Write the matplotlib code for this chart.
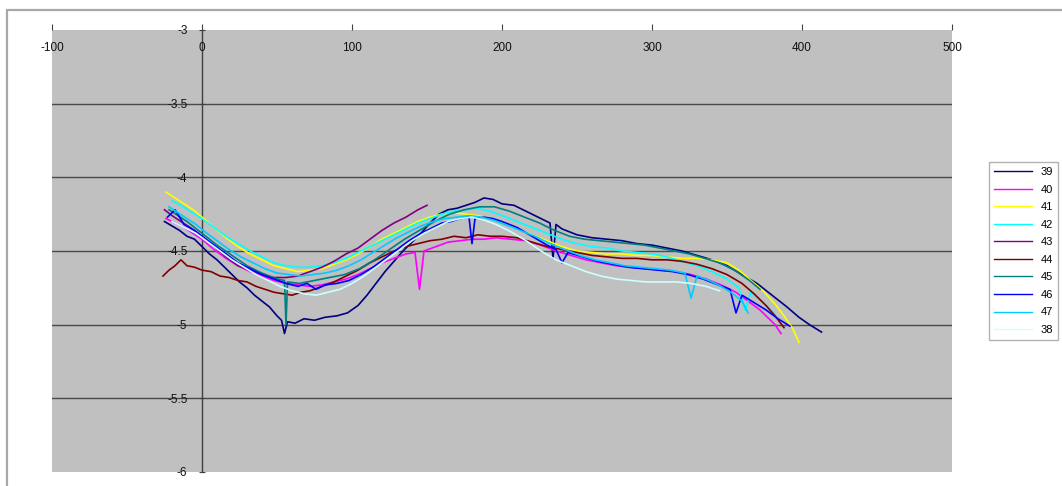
import matplotlib
matplotlib.use("Agg")
import matplotlib.pyplot as plt
from matplotlib.patches import Rectangle

plt.rcParams['font.family'] = ['Liberation Sans', 'DejaVu Sans']

# ---------------- data ----------------
series_names = ["39", "40", "41", "42", "43", "44", "45", "46", "47", "38"]
series_colors = ["#000080", "#FF00FF", "#FFFF00", "#00FFFF", "#800080",
                 "#800000", "#008080", "#0000FF", "#00CCFF", "#CCFFFF"]

x39 = [-25, -20, -15, -10, -5, 0, 5, 10, 15, 20, 25, 30, 35, 40, 45, 50, 53, 55, 57, 62, 68, 75, 82, 90, 97, 104,
       110, 116, 122, 128, 134, 140, 146, 152, 158, 164, 170, 176, 182, 188, 194, 200, 208, 216, 224, 232, 234, 236,
       240, 250, 260, 270, 280, 290, 300, 310, 320, 330, 340, 350, 360, 370, 380, 390, 398, 405, 413]
y39 = [-4.30, -4.33, -4.36, -4.40, -4.42, -4.47, -4.52, -4.56, -4.61, -4.66, -4.71, -4.75, -4.80, -4.84, -4.88,
       -4.94, -4.97, -5.06, -4.98, -4.99, -4.96, -4.97, -4.95, -4.94, -4.92, -4.87, -4.80, -4.72, -4.64, -4.57,
       -4.50, -4.44, -4.38, -4.31, -4.25, -4.22, -4.21, -4.19, -4.17, -4.14, -4.15, -4.18, -4.19, -4.23, -4.27,
       -4.31, -4.55, -4.32, -4.35, -4.39, -4.41, -4.42, -4.43, -4.45, -4.46, -4.48, -4.50, -4.53, -4.56, -4.60,
       -4.66, -4.72, -4.80, -4.88, -4.95, -5.00, -5.05]

x40 = [-24, -18, -12, -6, 0, 8, 16, 24, 32, 40, 48, 56, 64, 72, 80, 88, 96, 104, 112, 120, 128, 136, 142, 145, 148,
       156, 164, 172, 180, 188, 196, 206, 216, 226, 236, 246, 256, 266, 276, 286, 296, 306, 316, 326, 336, 346,
       356, 364, 372, 378, 382, 386]
y40 = [-4.28, -4.31, -4.34, -4.38, -4.42, -4.49, -4.55, -4.60, -4.64, -4.67, -4.70, -4.72, -4.73, -4.74, -4.73,
       -4.71, -4.69, -4.66, -4.62, -4.58, -4.55, -4.52, -4.51, -4.76, -4.50, -4.47, -4.44, -4.43, -4.42, -4.42,
       -4.41, -4.42, -4.43, -4.46, -4.50, -4.53, -4.56, -4.58, -4.60, -4.61, -4.62, -4.63, -4.64, -4.66, -4.69,
       -4.73, -4.78, -4.84, -4.90, -4.96, -5.00, -5.06]

x41 = [-24, -18, -12, -6, 0, 8, 16, 24, 32, 40, 48, 56, 64, 72, 80, 88, 96, 104, 112, 120, 128, 136, 144, 152, 160,
       168, 176, 184, 192, 200, 210, 220, 230, 240, 250, 260, 270, 280, 290, 300, 310, 320, 330, 340, 350, 358,
       366, 374, 382, 388, 394, 398]
y41 = [-4.10, -4.14, -4.18, -4.22, -4.27, -4.34, -4.41, -4.47, -4.52, -4.56, -4.60, -4.62, -4.64, -4.63, -4.62,
       -4.59, -4.56, -4.52, -4.47, -4.42, -4.38, -4.34, -4.30, -4.27, -4.25, -4.24, -4.25, -4.26, -4.28, -4.31,
       -4.35, -4.39, -4.43, -4.47, -4.50, -4.51, -4.52, -4.52, -4.53, -4.53, -4.54, -4.55, -4.55, -4.56, -4.58,
       -4.63, -4.70, -4.77, -4.86, -4.94, -5.03, -5.12]

x42 = [-20, -14, -8, 0, 8, 16, 24, 32, 40, 48, 56, 64, 72, 80, 88, 96, 104, 112, 120, 128, 136, 144, 152, 160, 168,
       176, 184, 192, 200, 210, 220, 230, 240, 250, 260, 270, 280, 290, 300, 310, 320, 330, 340, 350, 358, 362,
       366, 374, 382]
y42 = [-4.16, -4.19, -4.23, -4.28, -4.34, -4.40, -4.45, -4.50, -4.54, -4.58, -4.60, -4.61, -4.61, -4.60, -4.58,
       -4.55, -4.51, -4.47, -4.43, -4.39, -4.35, -4.31, -4.28, -4.25, -4.23, -4.22, -4.21, -4.23, -4.26, -4.30,
       -4.34, -4.38, -4.42, -4.45, -4.47, -4.48, -4.50, -4.51, -4.52, -4.54, -4.57, -4.60, -4.64, -4.69, -4.75,
       -4.90, -4.78, -4.85, -4.93]

x43 = [-25, -20, -14, -8, 0, 8, 16, 24, 32, 40, 48, 56, 64, 72, 80, 88, 96, 104, 112, 120, 128, 136, 144, 150]
y43 = [-4.22, -4.26, -4.30, -4.34, -4.40, -4.47, -4.54, -4.60, -4.63, -4.66, -4.68, -4.68, -4.67, -4.64, -4.61,
       -4.57, -4.52, -4.48, -4.42, -4.36, -4.31, -4.27, -4.22, -4.19]

x44 = [-26, -22, -18, -14, -10, -5, 0, 6, 12, 18, 24, 30, 36, 42, 48, 54, 60, 66, 72, 80, 88, 96, 104, 112, 120,
       128, 136, 144, 152, 160, 168, 176, 184, 192, 200, 210, 220, 230, 240, 250, 260, 270, 280, 290, 300, 310,
       320, 330, 340, 350, 360, 368, 376, 382, 388]
y44 = [-4.67, -4.63, -4.60, -4.56, -4.60, -4.61, -4.63, -4.64, -4.67, -4.68, -4.70, -4.71, -4.74, -4.76, -4.78,
       -4.79, -4.80, -4.78, -4.77, -4.74, -4.71, -4.67, -4.63, -4.58, -4.54, -4.50, -4.47, -4.45, -4.43, -4.42,
       -4.40, -4.41, -4.39, -4.40, -4.40, -4.41, -4.44, -4.47, -4.49, -4.51, -4.53, -4.54, -4.55, -4.55, -4.56,
       -4.56, -4.57, -4.59, -4.62, -4.66, -4.72, -4.79, -4.87, -4.94, -5.02]

x45 = [-22, -10, 0, 10, 20, 30, 40, 50, 55, 56, 57, 65, 75, 85, 95, 105, 115, 125, 135, 145, 155, 165, 175, 185,
       195, 205, 215, 225, 235, 245, 255, 265, 275, 285, 295, 305, 315, 325, 335, 345, 355, 365, 372]
y45 = [-4.22, -4.30, -4.38, -4.46, -4.53, -4.60, -4.65, -4.69, -4.70, -5.00, -4.71, -4.72, -4.70, -4.68, -4.66,
       -4.62, -4.56, -4.49, -4.42, -4.36, -4.30, -4.25, -4.22, -4.20, -4.20, -4.23, -4.27, -4.31, -4.36, -4.40,
       -4.42, -4.43, -4.44, -4.45, -4.46, -4.48, -4.50, -4.52, -4.55, -4.58, -4.63, -4.70, -4.76]

x46 = [-23, -18, -12, -5, 0, 8, 16, 24, 32, 40, 48, 56, 64, 70, 76, 82, 90, 98, 106, 114, 122, 130, 138, 146, 154,
       160, 166, 172, 178, 180, 182, 188, 194, 200, 210, 220, 230, 236, 240, 244, 254, 264, 274, 284, 294, 304,
       314, 324, 334, 344, 352, 356, 360, 368, 376, 384, 392]
y46 = [-4.27, -4.22, -4.32, -4.36, -4.40, -4.46, -4.52, -4.58, -4.62, -4.66, -4.69, -4.72, -4.74, -4.72, -4.76,
       -4.73, -4.72, -4.70, -4.66, -4.61, -4.55, -4.49, -4.43, -4.38, -4.34, -4.31, -4.30, -4.28, -4.27, -4.45,
       -4.28, -4.27, -4.28, -4.30, -4.34, -4.40, -4.46, -4.49, -4.58, -4.51, -4.54, -4.57, -4.59, -4.61, -4.62,
       -4.63, -4.64, -4.66, -4.69, -4.73, -4.76, -4.92, -4.80, -4.85, -4.90, -4.96, -5.01]

x47 = [-22, -16, -10, -4, 2, 10, 18, 26, 34, 42, 50, 58, 66, 74, 82, 90, 98, 106, 114, 122, 130, 138, 146, 154, 162,
       170, 178, 186, 194, 202, 212, 222, 232, 242, 252, 262, 272, 282, 292, 302, 312, 322, 326, 330, 338, 346,
       354, 360, 364]
y47 = [-4.20, -4.24, -4.28, -4.32, -4.37, -4.43, -4.49, -4.54, -4.58, -4.62, -4.65, -4.66, -4.67, -4.66, -4.65,
       -4.63, -4.60, -4.56, -4.51, -4.46, -4.41, -4.37, -4.33, -4.30, -4.28, -4.27, -4.26, -4.27, -4.29, -4.32,
       -4.36, -4.40, -4.45, -4.49, -4.53, -4.56, -4.58, -4.60, -4.61, -4.62, -4.63, -4.65, -4.82, -4.67, -4.70,
       -4.74, -4.79, -4.84, -4.92]

x38 = [-20, -12, -4, 4, 12, 20, 28, 36, 44, 52, 60, 68, 76, 84, 92, 100, 108, 116, 124, 132, 140, 148, 156, 164,
       172, 180, 188, 196, 206, 216, 226, 236, 246, 256, 266, 276, 286, 296, 306, 316, 326, 336, 345]
y38 = [-4.30, -4.34, -4.38, -4.44, -4.50, -4.56, -4.61, -4.66, -4.70, -4.74, -4.77, -4.79, -4.80, -4.78, -4.76,
       -4.72, -4.67, -4.61, -4.55, -4.49, -4.43, -4.38, -4.34, -4.30, -4.28, -4.27, -4.29, -4.32, -4.37, -4.43,
       -4.50, -4.56, -4.60, -4.64, -4.67, -4.69, -4.70, -4.71, -4.71, -4.71, -4.72, -4.74, -4.77]

series_x = [x39, x40, x41, x42, x43, x44, x45, x46, x47, x38]
series_y = [y39, y40, y41, y42, y43, y44, y45, y46, y47, y38]

xticks = [-100, 0, 100, 200, 300, 400, 500]
xtick_labels = ["-100", "0", "100", "200", "300", "400", "500"]
yticks = [-3, -3.5, -4, -4.5, -5, -5.5, -6]
ytick_labels = ["-3", "-3.5", "-4", "-4.5", "-5", "-5.5", "-6"]

# ---------------- figure ----------------
W, H = 1062, 486
fig = plt.figure(figsize=(W / 100, H / 100), dpi=100)
fig.patch.set_facecolor("white")

# outer chart border
fig.patches.append(Rectangle((7 / W, -0.02), 1.0, 1 - 10 / H + 0.02, transform=fig.transFigure,
                             fill=False, edgecolor="#A8A8A8", linewidth=1.6))

ax = fig.add_axes([52 / W, 1 - 472 / H, 900 / W, 442 / H])
ax.set_facecolor("#C0C0C0")
ax.set_xlim(-100, 500)
ax.set_ylim(-6, -3)

for yv in yticks[1:-1]:
    ax.axhline(yv, color="#4a4a4a", lw=1.0, zorder=1)

for sx, sy, c, n in zip(series_x, series_y, series_colors, series_names):
    ax.plot(sx, sy, color=c, lw=1.2, label=n, zorder=3)

# spines: y axis at x=0, x axis at top (y=-3) shown only by its ticks
for s in ["right", "bottom", "top"]:
    ax.spines[s].set_visible(False)
ax.spines["left"].set_position(("data", 0))
ax.spines["left"].set_color("#404040")
ax.spines["left"].set_linewidth(1.0)
ax.spines["left"].set_zorder(2)

ax.set_yticks(yticks)
ax.set_yticklabels(ytick_labels)
ax.tick_params(axis="y", direction="inout", length=5, width=0.8, color="#404040",
               pad=8, labelsize=8.5, labelcolor="#111111")

ax.xaxis.tick_top()
ax.set_xticks(xticks)
ax.set_xticklabels([])
ax.tick_params(axis="x", direction="out", length=4, width=0.8, color="#404040")
for xv, lab in zip(xticks, xtick_labels):
    ax.text(xv, -3.125, lab, ha="center", va="center", fontsize=8.5, color="#111111",
            transform=ax.transData, zorder=5)

handles, labels = ax.get_legend_handles_labels()
leg = fig.legend(handles, labels, loc="upper left", bbox_to_anchor=(989 / W, 1 - 162 / H),
                 frameon=True, fancybox=False, fontsize=8, handlelength=3.4, handletextpad=0.8,
                 labelspacing=0.68, borderpad=0.45, borderaxespad=0)
leg.get_frame().set_edgecolor("#A0A0A0")
leg.get_frame().set_linewidth(1.0)
for line in leg.get_lines():
    line.set_linewidth(1.0)

fig.savefig("out.png", dpi=100)
